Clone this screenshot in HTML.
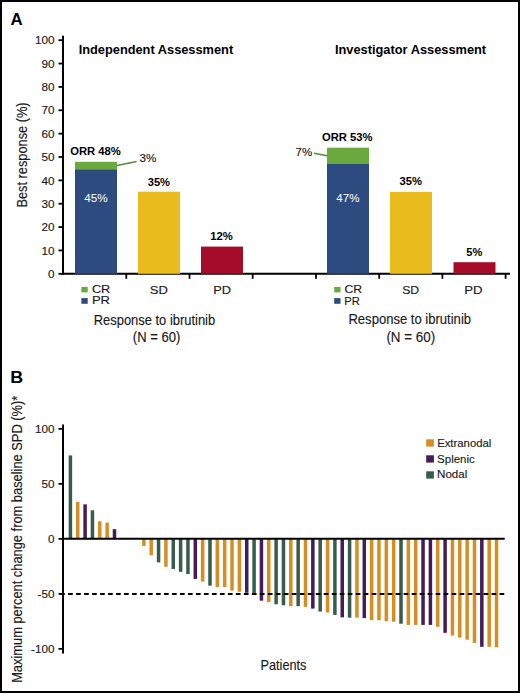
<!DOCTYPE html>
<html><head><meta charset="utf-8"><style>
html,body{margin:0;padding:0;background:#fff;}
body{width:520px;height:693px;overflow:hidden;position:relative;}
.frame{position:absolute;left:0;top:0;width:520px;height:693px;box-sizing:border-box;border:2px solid #000;}
svg{position:absolute;left:0;top:0;}
text{font-family:"Liberation Sans", sans-serif;}
</style></head><body>
<svg width="520" height="693" viewBox="0 0 520 693">
<line x1="63.00" y1="35.80" x2="63.00" y2="274.80" stroke="#000" stroke-width="2"/>
<line x1="58.50" y1="273.80" x2="63.00" y2="273.80" stroke="#000" stroke-width="1.8"/>
<text x="54.5" y="278.00" font-size="11.7" fill="#1a1a1a" stroke="#1a1a1a" stroke-width="0.15" text-anchor="end">0</text>
<line x1="58.50" y1="250.44" x2="63.00" y2="250.44" stroke="#000" stroke-width="1.8"/>
<text x="54.5" y="254.64" font-size="11.7" fill="#1a1a1a" stroke="#1a1a1a" stroke-width="0.15" text-anchor="end">10</text>
<line x1="58.50" y1="227.08" x2="63.00" y2="227.08" stroke="#000" stroke-width="1.8"/>
<text x="54.5" y="231.28" font-size="11.7" fill="#1a1a1a" stroke="#1a1a1a" stroke-width="0.15" text-anchor="end">20</text>
<line x1="58.50" y1="203.72" x2="63.00" y2="203.72" stroke="#000" stroke-width="1.8"/>
<text x="54.5" y="207.92" font-size="11.7" fill="#1a1a1a" stroke="#1a1a1a" stroke-width="0.15" text-anchor="end">30</text>
<line x1="58.50" y1="180.36" x2="63.00" y2="180.36" stroke="#000" stroke-width="1.8"/>
<text x="54.5" y="184.56" font-size="11.7" fill="#1a1a1a" stroke="#1a1a1a" stroke-width="0.15" text-anchor="end">40</text>
<line x1="58.50" y1="157.00" x2="63.00" y2="157.00" stroke="#000" stroke-width="1.8"/>
<text x="54.5" y="161.20" font-size="11.7" fill="#1a1a1a" stroke="#1a1a1a" stroke-width="0.15" text-anchor="end">50</text>
<line x1="58.50" y1="133.64" x2="63.00" y2="133.64" stroke="#000" stroke-width="1.8"/>
<text x="54.5" y="137.84" font-size="11.7" fill="#1a1a1a" stroke="#1a1a1a" stroke-width="0.15" text-anchor="end">60</text>
<line x1="58.50" y1="110.28" x2="63.00" y2="110.28" stroke="#000" stroke-width="1.8"/>
<text x="54.5" y="114.48" font-size="11.7" fill="#1a1a1a" stroke="#1a1a1a" stroke-width="0.15" text-anchor="end">70</text>
<line x1="58.50" y1="86.92" x2="63.00" y2="86.92" stroke="#000" stroke-width="1.8"/>
<text x="54.5" y="91.12" font-size="11.7" fill="#1a1a1a" stroke="#1a1a1a" stroke-width="0.15" text-anchor="end">80</text>
<line x1="58.50" y1="63.56" x2="63.00" y2="63.56" stroke="#000" stroke-width="1.8"/>
<text x="54.5" y="67.76" font-size="11.7" fill="#1a1a1a" stroke="#1a1a1a" stroke-width="0.15" text-anchor="end">90</text>
<line x1="58.50" y1="40.20" x2="63.00" y2="40.20" stroke="#000" stroke-width="1.8"/>
<text x="54.5" y="44.40" font-size="11.7" fill="#1a1a1a" stroke="#1a1a1a" stroke-width="0.15" text-anchor="end">100</text>
<line x1="62.00" y1="273.80" x2="510.00" y2="273.80" stroke="#000" stroke-width="2"/>
<line x1="126.30" y1="273.80" x2="126.30" y2="278.80" stroke="#000" stroke-width="1.8"/>
<line x1="189.50" y1="273.80" x2="189.50" y2="278.80" stroke="#000" stroke-width="1.8"/>
<line x1="252.70" y1="273.80" x2="252.70" y2="278.80" stroke="#000" stroke-width="1.8"/>
<line x1="316.00" y1="273.80" x2="316.00" y2="278.80" stroke="#000" stroke-width="1.8"/>
<line x1="379.20" y1="273.80" x2="379.20" y2="278.80" stroke="#000" stroke-width="1.8"/>
<line x1="442.40" y1="273.80" x2="442.40" y2="278.80" stroke="#000" stroke-width="1.8"/>
<line x1="505.60" y1="273.80" x2="505.60" y2="278.80" stroke="#000" stroke-width="1.8"/>
<rect x="75.00" y="161.80" width="42.00" height="7.50" fill="#69a93e"/>
<rect x="75.00" y="169.30" width="42.00" height="104.50" fill="#2e4b80"/>
<rect x="138.00" y="191.70" width="42.00" height="82.10" fill="#eabb1d"/>
<rect x="201.00" y="246.60" width="42.00" height="27.20" fill="#a50c2a"/>
<rect x="327.00" y="147.70" width="42.00" height="15.90" fill="#69a93e"/>
<rect x="327.00" y="163.60" width="42.00" height="110.20" fill="#2e4b80"/>
<rect x="390.00" y="191.90" width="42.00" height="81.90" fill="#eabb1d"/>
<rect x="453.50" y="262.20" width="42.00" height="11.60" fill="#a50c2a"/>
<line x1="117.00" y1="165.50" x2="136.60" y2="161.50" stroke="#55883f" stroke-width="1.4"/>
<line x1="314.00" y1="153.20" x2="327.00" y2="155.80" stroke="#55883f" stroke-width="1.4"/>
<rect x="81.40" y="286.90" width="6.30" height="5.50" fill="#69a93e"/>
<rect x="81.40" y="298.10" width="6.30" height="5.70" fill="#2e4b80"/>
<rect x="334.20" y="286.90" width="6.30" height="5.50" fill="#69a93e"/>
<rect x="334.20" y="298.10" width="6.30" height="5.70" fill="#2e4b80"/>
<text x="10.45" y="25.20" font-size="17.00" font-weight="bold" fill="#000" textLength="12.15" lengthAdjust="spacingAndGlyphs">A</text>
<text x="78.67" y="53.59" font-size="12.00" font-weight="bold" fill="#000" textLength="154.51" lengthAdjust="spacingAndGlyphs">Independent Assessment</text>
<text x="334.97" y="54.30" font-size="12.00" font-weight="bold" fill="#000" textLength="151.16" lengthAdjust="spacingAndGlyphs">Investigator Assessment</text>
<text x="70.24" y="155.40" font-size="10.50" font-weight="bold" fill="#000" textLength="50.61" lengthAdjust="spacingAndGlyphs">ORR 48%</text>
<text x="139.62" y="162.35" font-size="11.00" fill="#1a1a1a" stroke="#1a1a1a" stroke-width="0.15" textLength="16.81" lengthAdjust="spacingAndGlyphs">3%</text>
<text x="84.32" y="201.98" font-size="11.00" fill="#fff" textLength="23.45" lengthAdjust="spacingAndGlyphs">45%</text>
<text x="147.70" y="185.90" font-size="10.80" font-weight="bold" fill="#000" textLength="22.29" lengthAdjust="spacingAndGlyphs">35%</text>
<text x="210.20" y="240.29" font-size="10.80" font-weight="bold" fill="#000" textLength="22.55" lengthAdjust="spacingAndGlyphs">12%</text>
<text x="91.93" y="293.26" font-size="11.20" fill="#1a1a1a" stroke="#1a1a1a" stroke-width="0.15" textLength="18.42" lengthAdjust="spacingAndGlyphs">CR</text>
<text x="91.95" y="304.46" font-size="11.20" fill="#1a1a1a" stroke="#1a1a1a" stroke-width="0.15" textLength="18.09" lengthAdjust="spacingAndGlyphs">PR</text>
<text x="149.80" y="293.56" font-size="11.60" fill="#1a1a1a" stroke="#1a1a1a" stroke-width="0.15" textLength="18.08" lengthAdjust="spacingAndGlyphs">SD</text>
<text x="213.31" y="293.57" font-size="11.60" fill="#1a1a1a" stroke="#1a1a1a" stroke-width="0.15" textLength="17.77" lengthAdjust="spacingAndGlyphs">PD</text>
<text x="93.72" y="324.87" font-size="14.50" fill="#1a1a1a" stroke="#1a1a1a" stroke-width="0.15" textLength="121.47" lengthAdjust="spacingAndGlyphs">Response to ibrutinib</text>
<text x="132.84" y="342.02" font-size="14.00" fill="#1a1a1a" stroke="#1a1a1a" stroke-width="0.15" textLength="47.39" lengthAdjust="spacingAndGlyphs">(N = 60)</text>
<text x="322.03" y="140.70" font-size="10.50" font-weight="bold" fill="#000" textLength="50.56" lengthAdjust="spacingAndGlyphs">ORR 53%</text>
<text x="295.59" y="156.42" font-size="11.00" fill="#1a1a1a" stroke="#1a1a1a" stroke-width="0.15" textLength="16.64" lengthAdjust="spacingAndGlyphs">7%</text>
<text x="336.32" y="202.27" font-size="11.00" fill="#fff" textLength="23.11" lengthAdjust="spacingAndGlyphs">47%</text>
<text x="399.44" y="185.00" font-size="10.80" font-weight="bold" fill="#000" textLength="22.59" lengthAdjust="spacingAndGlyphs">35%</text>
<text x="466.39" y="256.20" font-size="10.80" font-weight="bold" fill="#000" textLength="16.06" lengthAdjust="spacingAndGlyphs">5%</text>
<text x="344.56" y="293.29" font-size="11.20" fill="#1a1a1a" stroke="#1a1a1a" stroke-width="0.15" textLength="17.64" lengthAdjust="spacingAndGlyphs">CR</text>
<text x="344.36" y="304.50" font-size="11.20" fill="#1a1a1a" stroke="#1a1a1a" stroke-width="0.15">PR</text>
<text x="402.15" y="293.51" font-size="11.60" fill="#1a1a1a" stroke="#1a1a1a" stroke-width="0.15" textLength="17.03" lengthAdjust="spacingAndGlyphs">SD</text>
<text x="464.29" y="293.57" font-size="11.60" fill="#1a1a1a" stroke="#1a1a1a" stroke-width="0.15" textLength="18.32" lengthAdjust="spacingAndGlyphs">PD</text>
<text x="348.45" y="324.00" font-size="14.50" fill="#1a1a1a" stroke="#1a1a1a" stroke-width="0.15" textLength="122.61" lengthAdjust="spacingAndGlyphs">Response to ibrutinib</text>
<text x="386.42" y="342.00" font-size="14.00" fill="#1a1a1a" stroke="#1a1a1a" stroke-width="0.15" textLength="48.79" lengthAdjust="spacingAndGlyphs">(N = 60)</text>
<text x="0" y="0" font-size="14.00" fill="#1a1a1a" stroke="#1a1a1a" stroke-width="0.15" transform="translate(27.08,207.54) rotate(-90)" textLength="105.15" lengthAdjust="spacingAndGlyphs">Best response (%)</text>
<line x1="63.00" y1="424.50" x2="63.00" y2="653.50" stroke="#000" stroke-width="2"/>
<line x1="58.50" y1="428.85" x2="63.00" y2="428.85" stroke="#000" stroke-width="1.8"/>
<text x="54.5" y="433.05" font-size="11.7" fill="#1a1a1a" stroke="#1a1a1a" stroke-width="0.15" text-anchor="end">100</text>
<line x1="58.50" y1="483.85" x2="63.00" y2="483.85" stroke="#000" stroke-width="1.8"/>
<text x="54.5" y="488.05" font-size="11.7" fill="#1a1a1a" stroke="#1a1a1a" stroke-width="0.15" text-anchor="end">50</text>
<line x1="58.50" y1="538.85" x2="63.00" y2="538.85" stroke="#000" stroke-width="1.8"/>
<text x="54.5" y="543.05" font-size="11.7" fill="#1a1a1a" stroke="#1a1a1a" stroke-width="0.15" text-anchor="end">0</text>
<line x1="58.50" y1="593.85" x2="63.00" y2="593.85" stroke="#000" stroke-width="1.8"/>
<text x="54.5" y="598.05" font-size="11.7" fill="#1a1a1a" stroke="#1a1a1a" stroke-width="0.15" text-anchor="end">-50</text>
<line x1="58.50" y1="648.85" x2="63.00" y2="648.85" stroke="#000" stroke-width="1.8"/>
<text x="54.5" y="653.05" font-size="11.7" fill="#1a1a1a" stroke="#1a1a1a" stroke-width="0.15" text-anchor="end">-100</text>
<rect x="426.20" y="439.30" width="7.70" height="7.30" fill="#d68e24"/>
<rect x="426.20" y="455.30" width="7.70" height="7.30" fill="#441c59"/>
<rect x="426.20" y="471.30" width="7.70" height="7.30" fill="#365c4d"/>
<text x="10.34" y="383.00" font-size="16.00" font-weight="bold" fill="#000" textLength="12.89" lengthAdjust="spacingAndGlyphs">B</text>
<text x="437.15" y="446.80" font-size="11.60" fill="#1a1a1a" stroke="#1a1a1a" stroke-width="0.15" textLength="54.18" lengthAdjust="spacingAndGlyphs">Extranodal</text>
<text x="437.10" y="463.13" font-size="11.60" fill="#1a1a1a" stroke="#1a1a1a" stroke-width="0.15" textLength="37.63" lengthAdjust="spacingAndGlyphs">Splenic</text>
<text x="437.07" y="478.24" font-size="11.60" fill="#1a1a1a" stroke="#1a1a1a" stroke-width="0.15" textLength="30.20" lengthAdjust="spacingAndGlyphs">Nodal</text>
<text x="260.50" y="670.46" font-size="14.50" fill="#1a1a1a" stroke="#1a1a1a" stroke-width="0.15" textLength="46.00" lengthAdjust="spacingAndGlyphs">Patients</text>
<text x="0" y="0" font-size="14.00" fill="#1a1a1a" stroke="#1a1a1a" stroke-width="0.15" transform="translate(21.60,682.84) rotate(-90)" textLength="287.11" lengthAdjust="spacingAndGlyphs">Maximum percent change from baseline SPD (%)*</text>
<rect x="68.65" y="455.43" width="3.50" height="83.42" fill="#365c4d"/>
<rect x="76.00" y="501.83" width="3.50" height="37.02" fill="#d68e24"/>
<rect x="83.34" y="504.35" width="3.50" height="34.50" fill="#441c59"/>
<rect x="90.69" y="510.28" width="3.50" height="28.57" fill="#365c4d"/>
<rect x="98.04" y="521.25" width="3.50" height="17.60" fill="#d68e24"/>
<rect x="105.39" y="522.56" width="3.50" height="16.29" fill="#d68e24"/>
<rect x="112.73" y="529.15" width="3.50" height="9.70" fill="#441c59"/>
<rect x="142.12" y="538.85" width="3.50" height="7.08" fill="#d68e24"/>
<rect x="149.47" y="538.85" width="3.50" height="16.40" fill="#d68e24"/>
<rect x="156.81" y="538.85" width="3.50" height="23.54" fill="#365c4d"/>
<rect x="164.16" y="538.85" width="3.50" height="27.92" fill="#d68e24"/>
<rect x="171.51" y="538.85" width="3.50" height="30.12" fill="#365c4d"/>
<rect x="178.86" y="538.85" width="3.50" height="32.97" fill="#365c4d"/>
<rect x="186.20" y="538.85" width="3.50" height="35.16" fill="#365c4d"/>
<rect x="193.55" y="538.85" width="3.50" height="40.10" fill="#441c59"/>
<rect x="200.90" y="538.85" width="3.50" height="42.73" fill="#d68e24"/>
<rect x="208.24" y="538.85" width="3.50" height="46.79" fill="#365c4d"/>
<rect x="215.59" y="538.85" width="3.50" height="48.22" fill="#d68e24"/>
<rect x="222.94" y="538.85" width="3.50" height="48.22" fill="#d68e24"/>
<rect x="230.28" y="538.85" width="3.50" height="51.73" fill="#d68e24"/>
<rect x="237.63" y="538.85" width="3.50" height="52.94" fill="#d68e24"/>
<rect x="244.98" y="538.85" width="3.50" height="53.92" fill="#441c59"/>
<rect x="252.33" y="538.85" width="3.50" height="54.80" fill="#365c4d"/>
<rect x="259.67" y="538.85" width="3.50" height="61.82" fill="#441c59"/>
<rect x="267.02" y="538.85" width="3.50" height="63.36" fill="#d68e24"/>
<rect x="274.37" y="538.85" width="3.50" height="65.44" fill="#365c4d"/>
<rect x="281.71" y="538.85" width="3.50" height="66.43" fill="#365c4d"/>
<rect x="289.06" y="538.85" width="3.50" height="67.31" fill="#d68e24"/>
<rect x="296.41" y="538.85" width="3.50" height="67.31" fill="#365c4d"/>
<rect x="303.75" y="538.85" width="3.50" height="67.96" fill="#d68e24"/>
<rect x="311.10" y="538.85" width="3.50" height="69.72" fill="#441c59"/>
<rect x="318.45" y="538.85" width="3.50" height="72.68" fill="#365c4d"/>
<rect x="325.80" y="538.85" width="3.50" height="73.67" fill="#d68e24"/>
<rect x="333.14" y="538.85" width="3.50" height="76.08" fill="#365c4d"/>
<rect x="340.49" y="538.85" width="3.50" height="78.50" fill="#441c59"/>
<rect x="347.84" y="538.85" width="3.50" height="78.82" fill="#365c4d"/>
<rect x="355.18" y="538.85" width="3.50" height="78.82" fill="#d68e24"/>
<rect x="362.53" y="538.85" width="3.50" height="79.26" fill="#441c59"/>
<rect x="369.88" y="538.85" width="3.50" height="81.35" fill="#d68e24"/>
<rect x="377.22" y="538.85" width="3.50" height="81.35" fill="#d68e24"/>
<rect x="384.57" y="538.85" width="3.50" height="82.44" fill="#d68e24"/>
<rect x="391.92" y="538.85" width="3.50" height="82.88" fill="#d68e24"/>
<rect x="399.26" y="538.85" width="3.50" height="84.86" fill="#365c4d"/>
<rect x="406.61" y="538.85" width="3.50" height="86.06" fill="#d68e24"/>
<rect x="413.96" y="538.85" width="3.50" height="86.06" fill="#d68e24"/>
<rect x="421.31" y="538.85" width="3.50" height="86.06" fill="#441c59"/>
<rect x="428.65" y="538.85" width="3.50" height="86.06" fill="#441c59"/>
<rect x="436.00" y="538.85" width="3.50" height="87.93" fill="#d68e24"/>
<rect x="443.35" y="538.85" width="3.50" height="93.96" fill="#441c59"/>
<rect x="450.69" y="538.85" width="3.50" height="96.71" fill="#d68e24"/>
<rect x="458.04" y="538.85" width="3.50" height="98.68" fill="#d68e24"/>
<rect x="465.39" y="538.85" width="3.50" height="100.87" fill="#d68e24"/>
<rect x="472.74" y="538.85" width="3.50" height="104.16" fill="#d68e24"/>
<rect x="480.08" y="538.85" width="3.50" height="108.00" fill="#441c59"/>
<rect x="487.43" y="538.85" width="3.50" height="108.00" fill="#d68e24"/>
<rect x="494.78" y="538.85" width="3.50" height="108.44" fill="#d68e24"/>
<line x1="62.00" y1="538.85" x2="504.70" y2="538.85" stroke="#000" stroke-width="2"/>
<line x1="60.10" y1="594.05" x2="504.40" y2="594.05" stroke="#000" stroke-width="2" stroke-dasharray="4.7 3.29"/>
</svg>
<div class="frame"></div>
</body></html>
